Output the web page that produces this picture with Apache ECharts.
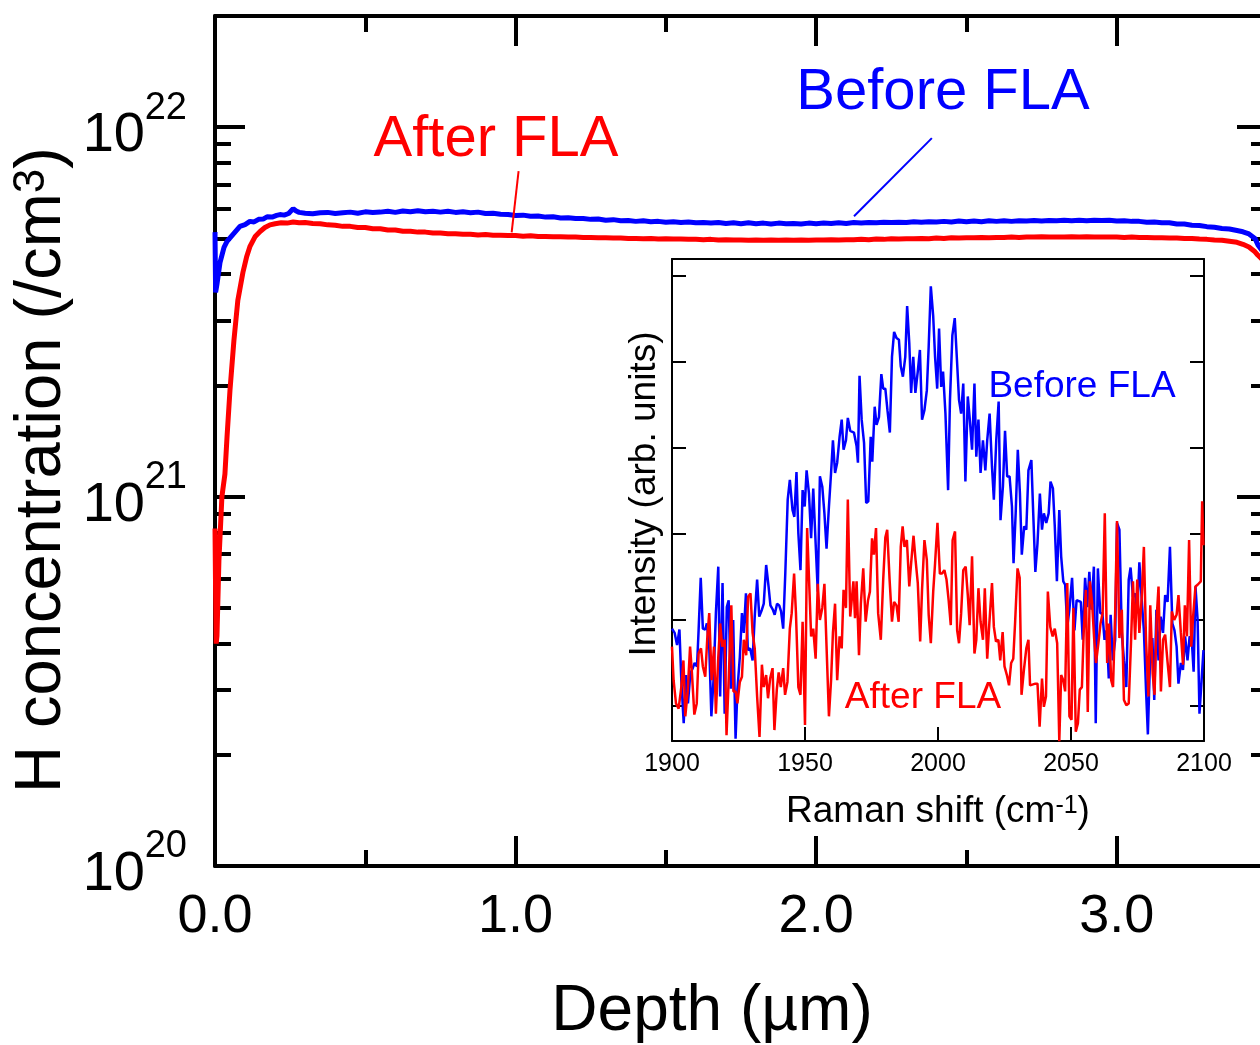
<!DOCTYPE html>
<html><head><meta charset="utf-8">
<script src="https://cdn.jsdelivr.net/npm/echarts@6/dist/echarts.min.js"></script>
<style>html,body{margin:0;padding:0;background:#fff}#c{width:1260px;height:1045px}</style>
</head><body><div id="c"></div><script>
// ---- main plot: H concentration depth profiles (depth in um, H in 1e21 /cm3) ----
const H_UNIT = 1e21;
const beforeFLA = [
[0.000,5.20],[0.002,3.57],[0.0066,3.76],[0.0166,4.30],[0.030,4.73],[0.040,4.91],[0.060,5.13],[0.083,5.39],[0.100,5.45],[0.116,5.56],[0.130,5.54],[0.145,5.63],[0.160,5.64],[0.173,5.72],[0.190,5.71],[0.205,5.77],[0.216,5.80],[0.230,5.78],[0.245,5.84],[0.260,6.02],[0.270,5.93],[0.280,5.88],
[0.300,5.85],[0.325,5.83],[0.350,5.87],[0.375,5.88],[0.400,5.84],[0.425,5.87],[0.450,5.89],[0.475,5.85],[0.500,5.90],[0.525,5.88],[0.550,5.89],[0.575,5.92],[0.600,5.88],[0.625,5.93],[0.650,5.90],[0.675,5.94],[0.700,5.90],[0.725,5.92],[0.750,5.89],[0.775,5.92],[0.800,5.88],[0.825,5.90],[0.850,5.87],[0.875,5.89],[0.900,5.84],[0.925,5.85],[0.950,5.81],[0.975,5.80],
[1.000,5.77],[1.025,5.78],[1.050,5.74],[1.075,5.75],[1.100,5.71],[1.125,5.72],[1.150,5.68],[1.175,5.69],[1.200,5.66],[1.225,5.66],[1.250,5.63],[1.275,5.64],[1.300,5.60],[1.325,5.62],[1.350,5.58],[1.375,5.59],[1.400,5.56],[1.425,5.58],[1.450,5.55],[1.475,5.56],[1.500,5.53],[1.525,5.55],[1.550,5.52],[1.575,5.54],[1.600,5.51],[1.625,5.52],[1.650,5.50],[1.675,5.52],[1.700,5.49],[1.725,5.51],[1.750,5.48],[1.775,5.51],[1.800,5.48],[1.825,5.50],[1.850,5.47],[1.875,5.50],[1.900,5.48],[1.925,5.49],[1.950,5.47],[1.975,5.50],
[2.000,5.48],[2.025,5.50],[2.050,5.49],[2.075,5.51],[2.100,5.49],[2.125,5.52],[2.150,5.50],[2.175,5.52],[2.200,5.51],[2.225,5.53],[2.250,5.52],[2.275,5.53],[2.300,5.52],[2.325,5.55],[2.350,5.53],[2.375,5.55],[2.400,5.54],[2.425,5.56],[2.450,5.54],[2.475,5.57],[2.500,5.55],[2.525,5.57],[2.550,5.55],[2.575,5.58],[2.600,5.56],[2.625,5.58],[2.650,5.56],[2.675,5.58],[2.700,5.57],[2.725,5.59],[2.750,5.57],[2.775,5.59],[2.800,5.58],[2.825,5.60],[2.850,5.58],[2.875,5.60],[2.900,5.58],[2.925,5.60],[2.950,5.59],[2.975,5.60],
[3.000,5.57],[3.025,5.58],[3.050,5.56],[3.075,5.56],[3.100,5.53],[3.125,5.54],[3.150,5.51],[3.175,5.51],[3.200,5.47],[3.225,5.47],[3.250,5.43],[3.275,5.42],[3.300,5.38],[3.325,5.36],[3.350,5.32],[3.375,5.30],[3.400,5.25],[3.420,5.21],[3.440,5.14],[3.460,5.00],[3.470,4.80],[3.485,4.62],[3.500,4.42]
];
const afterFLA = [
[0.000,0.82],[0.002,0.55],[0.004,0.40],[0.0066,0.42],[0.013,0.67],[0.023,1.00],[0.033,1.15],[0.040,1.45],[0.050,1.95],[0.063,2.65],[0.076,3.40],[0.093,4.05],[0.105,4.45],[0.116,4.75],[0.133,5.05],[0.150,5.22],[0.166,5.35],[0.183,5.44],[0.200,5.48],[0.220,5.51],[0.240,5.50],[0.260,5.54],[0.280,5.51],
[0.300,5.52],[0.325,5.49],[0.350,5.48],[0.375,5.44],[0.400,5.43],[0.425,5.39],[0.450,5.39],[0.475,5.35],[0.500,5.35],[0.525,5.31],[0.550,5.31],[0.575,5.27],[0.600,5.27],[0.625,5.23],[0.650,5.23],[0.675,5.20],[0.700,5.20],[0.725,5.17],[0.750,5.17],[0.775,5.15],[0.800,5.15],[0.825,5.13],[0.850,5.13],[0.875,5.11],[0.900,5.12],[0.925,5.10],[0.950,5.10],[0.975,5.09],
[1.000,5.09],[1.025,5.07],[1.050,5.08],[1.075,5.06],[1.100,5.06],[1.125,5.05],[1.150,5.05],[1.175,5.04],[1.200,5.04],[1.225,5.03],[1.250,5.03],[1.275,5.02],[1.300,5.02],[1.325,5.01],[1.350,5.01],[1.375,5.00],[1.400,5.00],[1.425,4.99],[1.450,5.00],[1.475,4.98],[1.500,4.99],[1.525,4.98],[1.550,4.98],[1.575,4.97],[1.600,4.97],[1.625,4.96],[1.650,4.97],[1.675,4.95],[1.700,4.96],[1.725,4.95],[1.750,4.95],[1.775,4.94],[1.800,4.95],[1.825,4.94],[1.850,4.95],[1.875,4.94],[1.900,4.95],[1.925,4.94],[1.950,4.95],[1.975,4.94],
[2.000,4.95],[2.025,4.95],[2.050,4.96],[2.075,4.95],[2.100,4.96],[2.125,4.96],[2.150,4.97],[2.175,4.96],[2.200,4.98],[2.225,4.97],[2.250,4.99],[2.275,4.98],[2.300,4.99],[2.325,4.99],[2.350,5.00],[2.375,4.99],[2.400,5.01],[2.425,5.00],[2.450,5.02],[2.475,5.01],[2.500,5.02],[2.525,5.02],[2.550,5.03],[2.575,5.02],[2.600,5.03],[2.625,5.03],[2.650,5.04],[2.675,5.03],[2.700,5.04],[2.725,5.04],[2.750,5.05],[2.775,5.04],[2.800,5.04],[2.825,5.04],[2.850,5.05],[2.875,5.04],[2.900,5.05],[2.925,5.04],[2.950,5.04],[2.975,5.04],
[3.000,5.04],[3.025,5.03],[3.050,5.04],[3.075,5.03],[3.100,5.03],[3.125,5.02],[3.150,5.02],[3.175,5.01],[3.200,5.01],[3.225,5.00],[3.250,5.00],[3.275,4.98],[3.300,4.97],[3.325,4.95],[3.350,4.94],[3.375,4.91],[3.400,4.88],[3.420,4.82],[3.440,4.74],[3.460,4.60],[3.470,4.50],[3.485,4.38],[3.500,4.25]
];
// annotation leader lines [depth, H/1e21]
const beforeLeader = [[2.126,5.74],[2.385,9.34]];
const afterLeader = [[0.987,5.19],[1.010,7.60]];

// ---- inset: Raman spectra [shift cm-1, intensity arb. units] ----
const ramanBefore = [
[1900.0,1.90],[1901.0,1.85],[1901.9,1.71],[1902.8,1.89],[1903.5,1.30],[1904.4,0.80],[1905.3,1.36],[1906.0,1.03],[1906.9,1.38],[1907.8,1.44],[1908.5,1.50],[1909.4,1.46],[1910.0,1.88],[1910.8,2.49],[1911.6,1.90],[1912.5,1.89],[1913.1,1.96],[1914.0,1.69],[1914.8,0.88],[1915.6,1.30],[1916.5,2.08],[1917.4,2.62],[1918.1,1.11],[1919.0,2.43],[1919.8,0.91],[1920.6,2.15],[1921.3,2.23],[1922.1,1.20],[1923.0,2.00],[1923.9,0.62],[1924.6,1.19],[1925.5,1.57],[1926.3,2.08],[1927.0,1.85],[1927.8,2.31],[1928.5,1.65],[1929.4,1.67],[1930.3,1.53],[1931.1,2.04],[1932.0,2.47],[1932.8,2.04],[1933.8,2.12],[1934.5,2.19],[1935.4,2.64],[1936.3,2.39],[1937.0,2.17],[1937.9,2.12],[1938.6,2.06],[1939.5,2.19],[1940.3,2.17],[1941.0,2.10],[1941.8,1.90],[1942.6,2.55],[1943.5,3.40],[1944.3,3.63],[1945.3,3.28],[1946.0,3.20],[1946.8,3.72],[1947.5,3.01],[1948.3,2.58],[1949.1,3.51],[1949.9,3.32],[1950.6,3.74],[1951.5,3.47],[1952.3,2.95],[1953.1,3.53],[1954.0,2.89],[1954.8,2.33],[1955.6,3.67],[1956.5,3.55],[1957.3,3.24],[1958.1,2.83],[1959.0,3.32],[1959.8,3.71],[1960.5,4.09],[1961.3,3.71],[1962.1,3.83],[1963.0,4.13],[1963.8,4.33],[1964.5,3.98],[1965.4,4.09],[1966.1,4.35],[1967.0,4.20],
[1968.4,4.18],[1969.4,4.02],[1969.9,3.83],[1970.5,4.84],[1971.3,4.33],[1972.2,4.06],[1973.0,3.36],[1973.8,3.38],[1974.7,4.13],[1975.3,3.84],[1976.2,4.48],[1976.9,4.27],[1977.8,4.36],[1978.7,4.86],[1979.4,4.69],[1980.2,4.69],[1981.0,4.44],[1981.9,4.18],[1982.7,5.06],[1983.5,5.35],[1984.4,5.28],[1985.3,5.26],[1986.0,4.95],[1986.8,4.83],[1987.7,5.06],[1988.4,5.65],[1989.2,5.22],[1989.9,4.64],[1990.7,5.06],[1991.5,4.64],[1992.4,4.89],[1993.2,5.14],[1994.0,4.33],[1994.9,4.44],[1995.8,4.67],[1996.5,5.18],[1997.3,5.88],[1998.2,5.53],[1998.9,5.06],[1999.7,4.69],[2000.4,5.39],[2001.2,4.71],[2001.9,4.89],[2002.8,4.40],[2003.8,3.51],[2004.5,4.56],[2005.4,5.31],[2006.3,5.51],[2007.2,4.98],[2007.9,4.56],[2008.7,4.40],[2009.5,4.75],[2010.3,3.61],[2011.2,4.60],[2011.9,4.35],[2012.8,3.98],[2013.7,4.75],[2014.4,3.90],[2015.2,4.33],[2016.0,3.71],[2016.9,4.09],[2017.8,3.74],[2018.5,4.09],[2019.4,4.40],[2020.3,3.78],[2021.0,3.40],[2021.9,4.09],[2022.8,4.54],[2023.5,3.16],[2024.4,3.55],[2025.2,4.20],[2026.0,3.67],[2026.9,3.67],[2027.8,3.32],[2028.4,2.66],[2029.2,3.24],[2030.0,3.98],[2030.8,3.47],[2031.5,2.76],[2032.4,3.09],[2033.2,3.05],[2034.0,3.74],
[2035.1,3.86],[2035.8,3.24],[2036.6,2.56],[2037.4,2.89],[2038.3,3.47],[2039.1,3.05],[2039.8,3.24],[2040.7,3.13],[2041.6,3.24],[2042.3,3.61],[2043.2,3.53],[2043.9,3.09],[2044.7,2.45],[2045.6,3.28],[2046.3,2.74],[2047.1,2.45],[2047.8,2.41],[2048.6,1.92],[2049.4,2.12],[2050.4,2.49],[2051.3,1.88],[2052.1,2.23],[2052.8,2.21],[2053.7,2.21],[2054.4,1.77],[2055.3,2.49],[2056.1,2.15],[2056.9,2.56],[2057.7,2.12],[2058.6,2.62],[2059.3,0.80],[2060.1,2.60],[2061.0,2.08],[2061.8,2.08],[2062.6,1.77],[2063.4,1.88],[2064.2,1.32],[2064.9,2.06],[2065.7,1.53],[2066.6,1.77],[2067.3,3.13],[2068.2,3.05],[2069.1,1.85],[2069.9,1.53],[2070.8,1.22],[2071.7,2.47],[2072.4,2.61],[2073.3,2.27],[2074.1,2.31],[2074.9,2.08],[2075.7,2.67],[2076.6,2.23],[2077.4,1.88],[2078.2,1.19],[2078.9,0.67],[2079.7,1.53],[2080.6,1.79],[2081.3,1.07],[2082.1,2.12],[2082.9,1.53],[2083.7,2.04],[2084.6,1.85],[2085.4,2.29],[2086.3,2.21],[2087.2,2.85],[2088.1,1.96],[2088.9,1.88],[2089.7,1.69],[2090.4,1.26],[2091.3,1.50],[2092.1,1.42],[2092.9,1.81],[2093.8,1.53],[2094.6,1.81],[2095.4,1.77],[2096.1,1.40],[2096.8,2.39],[2097.6,2.00],[2098.3,0.91],[2099.1,1.30],[2099.8,1.65]
];
const ramanAfter = [
[1900.0,1.69],[1900.6,1.30],[1901.5,1.03],[1902.5,0.97],[1903.5,1.22],[1904.3,1.53],[1905.0,0.88],[1905.9,1.17],[1906.8,1.69],[1907.5,1.38],[1908.4,0.90],[1909.3,1.03],[1910.0,1.61],[1910.9,1.67],[1911.6,1.46],[1912.5,1.34],[1913.3,1.81],[1914.0,2.08],[1914.9,1.30],[1915.8,1.69],[1916.5,0.91],[1917.4,1.57],[1918.1,1.96],[1918.9,1.69],[1919.8,1.77],[1920.5,0.66],[1921.4,1.38],[1922.3,2.17],[1923.1,1.17],[1923.9,1.17],[1924.6,1.03],[1925.5,1.28],[1926.3,1.34],[1927.0,1.77],[1927.9,1.59],[1928.6,2.27],[1929.5,2.31],[1930.3,1.85],[1931.1,1.67],[1932.0,1.11],[1932.9,0.64],[1933.8,1.48],[1934.5,1.22],[1935.4,1.36],[1936.1,1.09],[1936.9,1.32],[1937.8,1.44],[1938.5,0.72],[1939.4,1.19],[1940.1,1.39],[1940.9,1.22],[1941.8,1.44],[1942.5,1.13],[1943.4,1.28],[1944.3,1.90],[1945.0,2.08],[1945.9,2.54],[1946.6,2.08],[1947.5,1.22],[1948.3,1.13],[1949.1,1.98],[1950.0,0.78],[1950.8,3.07],[1951.5,2.49],[1952.3,1.81],[1953.1,1.90],[1954.0,1.55],[1954.8,2.42],[1955.6,2.00],[1956.5,2.14],[1957.3,2.42],[1958.1,1.69],[1959.0,0.88],[1959.8,1.30],[1960.5,1.85],[1961.3,2.19],[1962.1,1.30],[1963.0,1.81],[1963.8,1.67],[1964.5,2.35],[1965.4,2.14],[1966.1,3.40],[1967.0,2.04],
[1968.2,2.45],[1968.8,2.02],[1969.4,2.45],[1970.3,1.59],[1971.0,2.19],[1971.9,2.60],[1972.8,1.98],[1973.7,2.23],[1974.4,2.33],[1975.2,2.95],[1975.9,2.76],[1976.7,3.07],[1977.5,2.08],[1978.5,1.77],[1979.4,2.47],[1980.2,2.96],[1980.9,3.05],[1981.8,2.47],[1982.7,1.98],[1983.5,2.21],[1984.4,2.17],[1985.2,1.98],[1986.0,2.85],[1986.7,3.09],[1987.4,2.85],[1988.3,2.93],[1989.2,2.39],[1989.9,2.66],[1990.8,2.98],[1991.5,2.72],[1992.4,2.43],[1993.3,1.75],[1994.0,2.35],[1994.9,2.93],[1995.8,2.70],[1996.5,2.06],[1997.3,1.73],[1998.2,2.33],[1998.9,2.66],[1999.8,3.13],[2000.7,2.54],[2001.5,2.54],[2002.4,2.58],[2003.2,2.47],[2004.0,2.23],[2004.8,1.94],[2005.5,2.93],[2006.4,3.03],[2007.2,1.88],[2007.9,1.73],[2008.7,2.08],[2009.5,2.58],[2010.4,2.62],[2011.2,2.29],[2011.9,1.94],[2012.8,2.74],[2013.7,1.61],[2014.4,1.77],[2015.2,2.37],[2016.0,1.98],[2016.9,1.77],[2017.6,2.37],[2018.5,1.55],[2019.3,1.96],[2020.3,2.43],[2021.0,1.92],[2021.8,1.75],[2022.7,1.77],[2023.4,1.53],[2024.3,1.86],[2025.0,1.46],[2025.9,1.36],[2026.7,1.24],[2027.5,1.50],[2028.3,1.55],[2029.0,1.98],[2029.9,2.60],[2030.7,2.49],[2031.4,1.13],[2032.3,1.42],[2033.2,1.67],[2034.0,1.77],
[2034.6,1.24],[2035.3,1.24],[2036.6,1.26],[2037.4,1.26],[2038.2,0.76],[2039.1,1.32],[2039.8,0.99],[2040.6,1.11],[2041.3,2.33],[2042.2,1.92],[2043.1,1.81],[2043.9,1.90],[2044.8,1.73],[2045.6,0.59],[2046.3,1.36],[2047.1,1.30],[2047.8,1.17],[2048.6,2.43],[2049.4,0.88],[2050.2,0.84],[2050.9,2.14],[2051.8,0.70],[2052.6,0.80],[2053.3,1.19],[2054.1,1.22],[2054.8,1.88],[2055.6,2.35],[2056.3,0.93],[2057.1,2.45],[2057.9,2.21],[2058.7,1.79],[2059.4,1.50],[2060.3,1.73],[2061.1,1.96],[2061.9,2.08],[2062.7,3.24],[2063.6,1.50],[2064.3,1.96],[2065.1,1.30],[2065.8,1.22],[2066.6,2.08],[2067.3,3.15],[2068.2,1.79],[2069.1,2.12],[2069.9,1.07],[2070.8,1.01],[2071.7,1.03],[2072.6,1.77],[2073.3,2.45],[2074.1,1.77],[2074.9,2.47],[2075.7,1.85],[2076.6,2.27],[2077.4,2.85],[2078.2,1.77],[2079.1,1.11],[2079.8,2.17],[2080.7,1.38],[2081.4,1.13],[2082.2,2.02],[2082.9,2.39],[2083.8,1.17],[2084.6,1.77],[2085.4,1.83],[2086.3,1.51],[2087.2,1.22],[2087.9,2.10],[2088.8,2.00],[2089.7,2.06],[2090.4,2.29],[2091.3,1.85],[2092.1,1.48],[2092.8,2.17],[2093.6,1.81],[2094.4,2.93],[2095.2,1.69],[2095.9,2.04],[2096.8,2.39],[2097.6,2.41],[2098.3,2.43],[2098.8,2.45],[2099.3,3.38],[2099.8,2.87]
];

// axis settings (values, not positions)
const depthMin = 0, depthMax = 3.5, depthMajor = 1, depthMinorSplit = 2;
const hMin = 1e20, hMax = 2e22;
const minorDecades = [20, 21];
const minorMultipliers = [2,3,4,5,6,7,8,9];
const ramanMin = 1900, ramanMax = 2100, ramanStep = 50;
const intensityMin = 0.593, intensityMax = 6.198;
const intensityTicks = [1,2,3,4,5,6];

const FONT = "'Liberation Sans', Arial, Helvetica, sans-serif";
const BLUE = '#0000ff', RED = '#ff0000';

const minorTickValues = [];
minorDecades.forEach(d => minorMultipliers.forEach(m => minorTickValues.push(d + Math.log10(m))));

const toH = arr => arr.map(p => [p[0], p[1] * H_UNIT]);

const chart = echarts.init(document.getElementById('c'), null, {renderer: 'canvas'});

const mainLine = {lineStyle: {color: '#000', width: 4}, onZero: false, show: true};
const insetLine = {lineStyle: {color: '#000', width: 2}, onZero: false, show: true};

// two-line rich label: superscript exponent above-right of "10"
function logLabel(v) {
  const e = Math.log10(v), r = Math.round(e);
  if (Math.abs(e - r) > 1e-6) return '';
  return '{sp|}{s|' + r + '}\n{b|10}{sp2|}';
}

const depthAxisBase = {
  type: 'value', gridIndex: 0, min: depthMin, max: depthMax, interval: depthMajor,
  axisLine: mainLine,
  axisTick: {show: true, inside: true, length: 30, lineStyle: {color: '#000', width: 4}},
  minorTick: {show: true, splitNumber: depthMinorSplit, length: 16, lineStyle: {color: '#000', width: 4}},
  splitLine: {show: false}, minorSplitLine: {show: false}
};

const option = {
  animation: false,
  backgroundColor: '#fff',
  grid: [
    {left: 215, top: 16, width: 1052, height: 850, containLabel: false, outerBoundsMode: 'none'},
    {left: 672, top: 259, right: 56, bottom: 304, containLabel: false, outerBoundsMode: 'none'}
  ],
  xAxis: [
    Object.assign({}, depthAxisBase, {position: 'bottom',
     axisLabel: {show: true, fontSize: 54, fontFamily: FONT, color: '#000', margin: 24,
       formatter: v => Math.abs(v - Math.round(v)) < 1e-9 ? v.toFixed(1) : ''}}),
    Object.assign({}, depthAxisBase, {position: 'top', axisLabel: {show: false}}),
    {type: 'value', gridIndex: 1, position: 'bottom', min: ramanMin, max: ramanMax, interval: ramanStep,
     axisLine: insetLine, axisTick: {show: true, inside: true, length: 14, lineStyle: {color: '#000', width: 2}},
     axisLabel: {show: true, fontSize: 25, fontFamily: FONT, color: '#000', margin: 11, formatter: v => String(v)},
     splitLine: {show: false}},
    {type: 'value', gridIndex: 1, position: 'top', min: ramanMin, max: ramanMax, interval: ramanStep,
     axisLine: insetLine, axisTick: {show: false},
     axisLabel: {show: false}, splitLine: {show: false}}
  ],
  yAxis: [
    {type: 'log', logBase: 10, gridIndex: 0, position: 'left', min: hMin, max: hMax,
     axisLine: mainLine, axisTick: {show: true, inside: true, length: 30, lineStyle: {color: '#000', width: 4}},
     axisLabel: {show: true, margin: 28, formatter: logLabel,
       rich: {
         sp: {width: 62, lineHeight: 17, fontSize: 38, fontFamily: FONT},
         s: {width: 42, fontSize: 38, fontFamily: FONT, color: '#000', lineHeight: 17},
         b: {width: 62, fontSize: 56, fontFamily: FONT, color: '#000', lineHeight: 38},
         sp2: {width: 42, lineHeight: 38, fontSize: 38, fontFamily: FONT}
       }},
     splitLine: {show: false}, minorTick: {show: false}},
    {type: 'log', logBase: 10, gridIndex: 0, position: 'right', min: hMin, max: hMax,
     axisLine: mainLine, axisTick: {show: true, inside: true, length: 30, lineStyle: {color: '#000', width: 4}},
     axisLabel: {show: false}, splitLine: {show: false}},
    {type: 'value', gridIndex: 0, position: 'left', min: Math.log10(hMin), max: Math.log10(hMax),
     axisLine: {show: false, onZero: false},
     axisTick: {show: true, inside: true, length: 16, customValues: minorTickValues, lineStyle: {color: '#000', width: 4}},
     axisLabel: {show: false}, splitLine: {show: false}},
    {type: 'value', gridIndex: 0, position: 'right', min: Math.log10(hMin), max: Math.log10(hMax),
     axisLine: {show: false, onZero: false},
     axisTick: {show: true, inside: true, length: 16, customValues: minorTickValues, lineStyle: {color: '#000', width: 4}},
     axisLabel: {show: false}, splitLine: {show: false}},
    {type: 'value', gridIndex: 1, position: 'left', min: intensityMin, max: intensityMax,
     axisLine: insetLine,
     axisTick: {show: true, inside: true, length: 14, customValues: intensityTicks, lineStyle: {color: '#000', width: 2}},
     axisLabel: {show: false}, splitLine: {show: false}},
    {type: 'value', gridIndex: 1, position: 'right', min: intensityMin, max: intensityMax,
     axisLine: insetLine,
     axisTick: {show: true, inside: true, length: 14, customValues: intensityTicks, lineStyle: {color: '#000', width: 2}},
     axisLabel: {show: false}, splitLine: {show: false}}
  ],
  series: [
    {name: 'Before FLA', type: 'line', xAxisIndex: 0, yAxisIndex: 0, data: toH(beforeFLA),
     showSymbol: false, symbol: 'none', lineStyle: {color: BLUE, width: 5}, itemStyle: {color: BLUE}, z: 3,
     markLine: {silent: true, symbol: ['none', 'none'], label: {show: false},
       lineStyle: {color: BLUE, width: 2, type: 'solid'},
       data: [[{coord: [beforeLeader[0][0], beforeLeader[0][1] * H_UNIT]}, {coord: [beforeLeader[1][0], beforeLeader[1][1] * H_UNIT]}]]}},
    {name: 'After FLA', type: 'line', xAxisIndex: 0, yAxisIndex: 0, data: toH(afterFLA),
     showSymbol: false, symbol: 'none', lineStyle: {color: RED, width: 5}, itemStyle: {color: RED}, z: 4,
     markLine: {silent: true, symbol: ['none', 'none'], label: {show: false},
       lineStyle: {color: RED, width: 2, type: 'solid'},
       data: [[{coord: [afterLeader[0][0], afterLeader[0][1] * H_UNIT]}, {coord: [afterLeader[1][0], afterLeader[1][1] * H_UNIT]}]]}},
    {name: 'Raman Before FLA', type: 'line', xAxisIndex: 2, yAxisIndex: 4, data: ramanBefore,
     showSymbol: false, symbol: 'none', lineStyle: {color: BLUE, width: 2.5}, itemStyle: {color: BLUE}, z: 3},
    {name: 'Raman After FLA', type: 'line', xAxisIndex: 2, yAxisIndex: 4, data: ramanAfter,
     showSymbol: false, symbol: 'none', lineStyle: {color: RED, width: 2.5}, itemStyle: {color: RED}, z: 4}
  ],
  graphic: [
    {type: 'text', x: 42, y: 470, rotation: Math.PI / 2, silent: true,
     style: {text: '{a|H concentration (/cm}{s|3}{a|)}', align: 'center', verticalAlign: 'middle',
       rich: {a: {fontSize: 65, fontFamily: FONT, fill: '#000', lineHeight: 65},
              s: {fontSize: 44, fontFamily: FONT, fill: '#000', lineHeight: 34, verticalAlign: 'top'}}}},
    {type: 'text', x: 712, y: 1012, silent: true,
     style: {text: 'Depth (\u00b5m)', fontSize: 64, fontFamily: FONT, fill: '#000', align: 'center', verticalAlign: 'middle'}},
    {type: 'text', x: 943, y: 93, silent: true,
     style: {text: 'Before FLA', fontSize: 58, fontFamily: FONT, fill: BLUE, align: 'center', verticalAlign: 'middle'}},
    {type: 'text', x: 496, y: 140, silent: true,
     style: {text: 'After FLA', fontSize: 58, fontFamily: FONT, fill: RED, align: 'center', verticalAlign: 'middle'}},
    {type: 'text', x: 1082, y: 387, silent: true,
     style: {text: 'Before FLA', fontSize: 37, fontFamily: FONT, fill: BLUE, align: 'center', verticalAlign: 'middle'}},
    {type: 'text', x: 923, y: 698, silent: true,
     style: {text: 'After FLA', fontSize: 37, fontFamily: FONT, fill: RED, align: 'center', verticalAlign: 'middle'}},
    {type: 'text', x: 938, y: 812, silent: true,
     style: {text: '{a|Raman shift (cm}{s|-1}{a|)}', align: 'center', verticalAlign: 'middle',
       rich: {a: {fontSize: 37, fontFamily: FONT, fill: '#000', lineHeight: 37},
              s: {fontSize: 25, fontFamily: FONT, fill: '#000', lineHeight: 22, verticalAlign: 'top'}}}},
    {type: 'text', x: 645, y: 494, rotation: Math.PI / 2, silent: true,
     style: {text: 'Intensity (arb. units)', fontSize: 37, fontFamily: FONT, fill: '#000', align: 'center', verticalAlign: 'middle'}}
  ]
};
chart.setOption(option);
</script></body></html>
